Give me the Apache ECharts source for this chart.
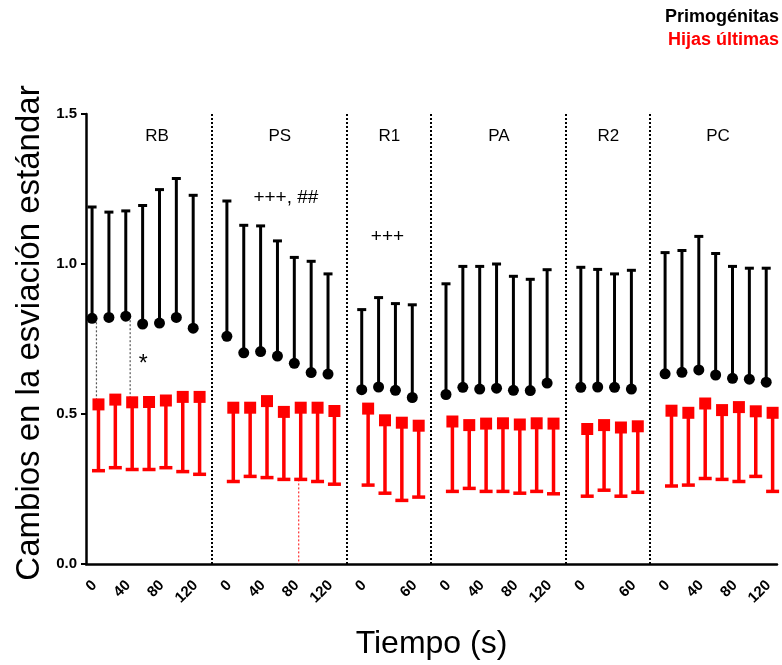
<!DOCTYPE html>
<html>
<head>
<meta charset="utf-8">
<script src="https://cdn.jsdelivr.net/npm/echarts@6/dist/echarts.min.js"></script>
<style>
  html, body { margin: 0; padding: 0; background: #fff; }
  #chart { width: 782px; height: 665px; }
</style>
</head>
<body>
<div id="chart"></div>
<script>
// fases del experimento y etiquetas de tiempo (s)
const groups = ['RB', 'PS', 'R1', 'PA', 'R2', 'PC'];
const ticks7 = ['0', '', '40', '', '80', '', '120'];
const ticks4 = ['0', '', '', '60'];

// Primogénitas: media y extremo superior del error
const primMean = [
  [0.819, 0.822, 0.826, 0.800, 0.803, 0.822, 0.786],
  [0.759, 0.704, 0.708, 0.693, 0.669, 0.638, 0.633],
  [0.581, 0.590, 0.579, 0.555],
  [0.565, 0.589, 0.583, 0.586, 0.579, 0.578, 0.603],
  [0.589, 0.590, 0.589, 0.583],
  [0.634, 0.639, 0.647, 0.630, 0.619, 0.616, 0.606],
];
const primUpper = [
  [1.190, 1.173, 1.177, 1.195, 1.248, 1.285, 1.229],
  [1.210, 1.129, 1.127, 1.077, 1.022, 1.009, 0.967],
  [0.848, 0.888, 0.868, 0.864],
  [0.934, 0.992, 0.992, 1.000, 0.959, 0.949, 0.981],
  [0.989, 0.982, 0.967, 0.979],
  [1.038, 1.045, 1.092, 1.035, 0.992, 0.986, 0.986],
];

// Hijas últimas: media y extremo inferior del error
const hijasMean = [
  [0.532, 0.548, 0.539, 0.540, 0.545, 0.557, 0.557],
  [0.521, 0.521, 0.543, 0.507, 0.521, 0.521, 0.510],
  [0.518, 0.479, 0.471, 0.461],
  [0.475, 0.463, 0.468, 0.469, 0.465, 0.469, 0.468],
  [0.450, 0.463, 0.455, 0.459],
  [0.511, 0.504, 0.535, 0.513, 0.523, 0.509, 0.504],
];
const hijasLower = [
  [0.311, 0.321, 0.315, 0.315, 0.321, 0.308, 0.299],
  [0.275, 0.292, 0.288, 0.282, 0.282, 0.275, 0.266],
  [0.263, 0.236, 0.212, 0.223],
  [0.242, 0.252, 0.242, 0.242, 0.236, 0.242, 0.234],
  [0.226, 0.246, 0.226, 0.239],
  [0.260, 0.263, 0.285, 0.282, 0.275, 0.292, 0.242],
];

// anotaciones de significancia: [texto, fase, posición en la fase, valor]
const marks = [
  ['*', 'RB', 2.9, 0.665],
  ['+++, ##', 'PS', 3.36, 1.22],
  ['+++', 'R1', 1.39, 1.09],
];

// lineas punteadas sueltas: [fase, punto, tipo]
const guides = [['RB', 0, 'grey'], ['RB', 2, 'grey'], ['PS', 4, 'red']];

// posición en slots: cada fase ocupa sus puntos y luego un hueco (separador)
const groupStart = [];
const separators = [];
const catLabels = [];
let slot = 0;
groups.forEach((g, gi) => {
  groupStart.push(slot);
  const n = primMean[gi].length;
  (n === 7 ? ticks7 : ticks4).forEach((t) => catLabels.push(t));
  slot += n;
  if (gi < groups.length - 1) {
    separators.push(slot);
    catLabels.push('');
    slot += 1;
  }
});

const blackBars = [];
const blackDots = [];
const redBars = [];
const redDots = [];
groups.forEach((g, gi) => {
  primMean[gi].forEach((v, i) => {
    const x = groupStart[gi] + i - 0.14;
    blackBars.push([x, v, primUpper[gi][i]]);
    blackDots.push([x, v]);
  });
  hijasMean[gi].forEach((v, i) => {
    const x = groupStart[gi] + i + 0.24;
    redBars.push([x, v, hijasLower[gi][i]]);
    redDots.push([x, v]);
  });
});

const guideData = guides.map(([g, i, kind]) => {
  const gi = groups.indexOf(g);
  const x = groupStart[gi] + i + 0.12;
  if (kind === 'grey') return [x, primMean[gi][i], hijasMean[gi][i], kind];
  return [x, hijasLower[gi][i], 0, kind];
});

const textData = groups.map((g, gi) => ({
  name: g,
  value: [groupStart[gi] + (primMean[gi].length - 1) / 2, 1.424],
  label: { fontSize: 17, offset: gi === 0 ? [12, 0] : [0, 0] },
})).concat(marks.map(([t, g, dx, y]) => ({
  name: t,
  value: [groupStart[groups.indexOf(g)] + dx, y],
  label: { fontSize: t === '*' ? 23 : 19 },
})));

function errorBar(color, width, capHalf) {
  return function (params, api) {
    const x = api.value(0);
    const from = api.coord([x, api.value(1)]);
    const to = api.coord([x, api.value(2)]);
    const style = { stroke: color, lineWidth: width };
    return {
      type: 'group',
      children: [
        { type: 'line', shape: { x1: from[0], y1: from[1], x2: to[0], y2: to[1] }, style },
        { type: 'line', shape: { x1: to[0] - capHalf, y1: to[1], x2: to[0] + capHalf, y2: to[1] }, style },
      ],
    };
  };
}

const font = 'Liberation Sans';
const chart = echarts.init(document.getElementById('chart'));
chart.setOption({
  animation: false,
  backgroundColor: '#fff',
  textStyle: { fontFamily: font },
  grid: { left: 86, right: 5, top: 114, bottom: 95 },
  xAxis: [
    {
      type: 'category',
      data: catLabels,
      name: 'Tiempo (s)',
      nameLocation: 'middle',
      nameGap: 64,
      nameTextStyle: { fontSize: 32, color: '#000', fontFamily: font },
      axisLine: { lineStyle: { color: '#000', width: 2.5 } },
      axisTick: { alignWithLabel: true, interval: 0, length: 6, lineStyle: { color: '#000', width: 2 } },
      axisLabel: {
        interval: 0, rotate: 45, margin: 19,
        color: '#000', fontWeight: 'bold', fontSize: 15, fontFamily: font,
      },
      splitLine: { show: false },
    },
    { type: 'value', min: -0.5, max: slot - 0.5, show: false },
  ],
  yAxis: {
    type: 'value',
    min: 0, max: 1.5, interval: 0.5,
    axisLine: { show: true, onZero: false, lineStyle: { color: '#000', width: 2.5 } },
    axisTick: { show: true, length: 5, lineStyle: { color: '#000', width: 2 } },
    axisLabel: {
      margin: 9, color: '#000', fontWeight: 'bold', fontSize: 15, fontFamily: font,
      formatter: (v) => v.toFixed(1),
    },
    splitLine: { show: false },
  },
  graphic: [
    {
      type: 'text', x: 30, y: 333, rotation: Math.PI / 2,
      style: {
        text: 'Cambios en la esviación estándar', font: '33px "Liberation Sans"',
        fill: '#000', align: 'center', verticalAlign: 'middle',
      },
    },
    { type: 'text', right: 3, top: 8, style: { text: 'Primogénitas', font: 'bold 18px "Liberation Sans"', fill: '#000' } },
    { type: 'text', right: 3, top: 31, style: { text: 'Hijas últimas', font: 'bold 18px "Liberation Sans"', fill: '#ff0000' } },
  ],
  series: [
    {
      type: 'custom',
      xAxisIndex: 1,
      data: guideData,
      silent: true,
      encode: { x: 0, y: [1, 2] },
      renderItem: (params, api) => {
        const x = api.value(0);
        const a = api.coord([x, api.value(1)]);
        const b = api.coord([x, api.value(2)]);
        const grey = guideData[params.dataIndex][3] === 'grey';
        return {
          type: 'line',
          shape: { x1: a[0], y1: a[1], x2: b[0], y2: b[1] },
          style: { stroke: grey ? '#555' : '#ff3030', lineWidth: 1.2, lineDash: [2, 2] },
        };
      },
      z: 1,
    },
    {
      type: 'custom',
      xAxisIndex: 1,
      data: redBars,
      encode: { x: 0, y: [1, 2] },
      renderItem: errorBar('#ff0000', 3.5, 6.5),
      z: 2,
    },
    {
      type: 'scatter',
      xAxisIndex: 1,
      data: redDots,
      symbol: 'rect',
      symbolSize: 12,
      itemStyle: { color: '#ff0000', opacity: 1 },
      z: 3,
    },
    {
      type: 'custom',
      xAxisIndex: 1,
      data: blackBars,
      encode: { x: 0, y: [1, 2] },
      renderItem: errorBar('#000', 3, 4.5),
      z: 4,
    },
    {
      type: 'scatter',
      xAxisIndex: 1,
      data: blackDots,
      symbol: 'circle',
      symbolSize: 11,
      itemStyle: { color: '#000', opacity: 1 },
      z: 5,
      markLine: {
        silent: true,
        symbol: 'none',
        label: { show: false },
        lineStyle: { color: '#000', type: 'dotted', width: 2 },
        data: separators.map((s) => ({ xAxis: s - 0.03 })),
      },
    },
    {
      type: 'scatter',
      xAxisIndex: 1,
      data: textData,
      symbolSize: 0,
      silent: true,
      itemStyle: { opacity: 1 },
      label: {
        show: true, position: 'inside', formatter: '{b}',
        color: '#000', fontFamily: font,
      },
      z: 6,
    },
  ],
});
</script>
</body>
</html>
